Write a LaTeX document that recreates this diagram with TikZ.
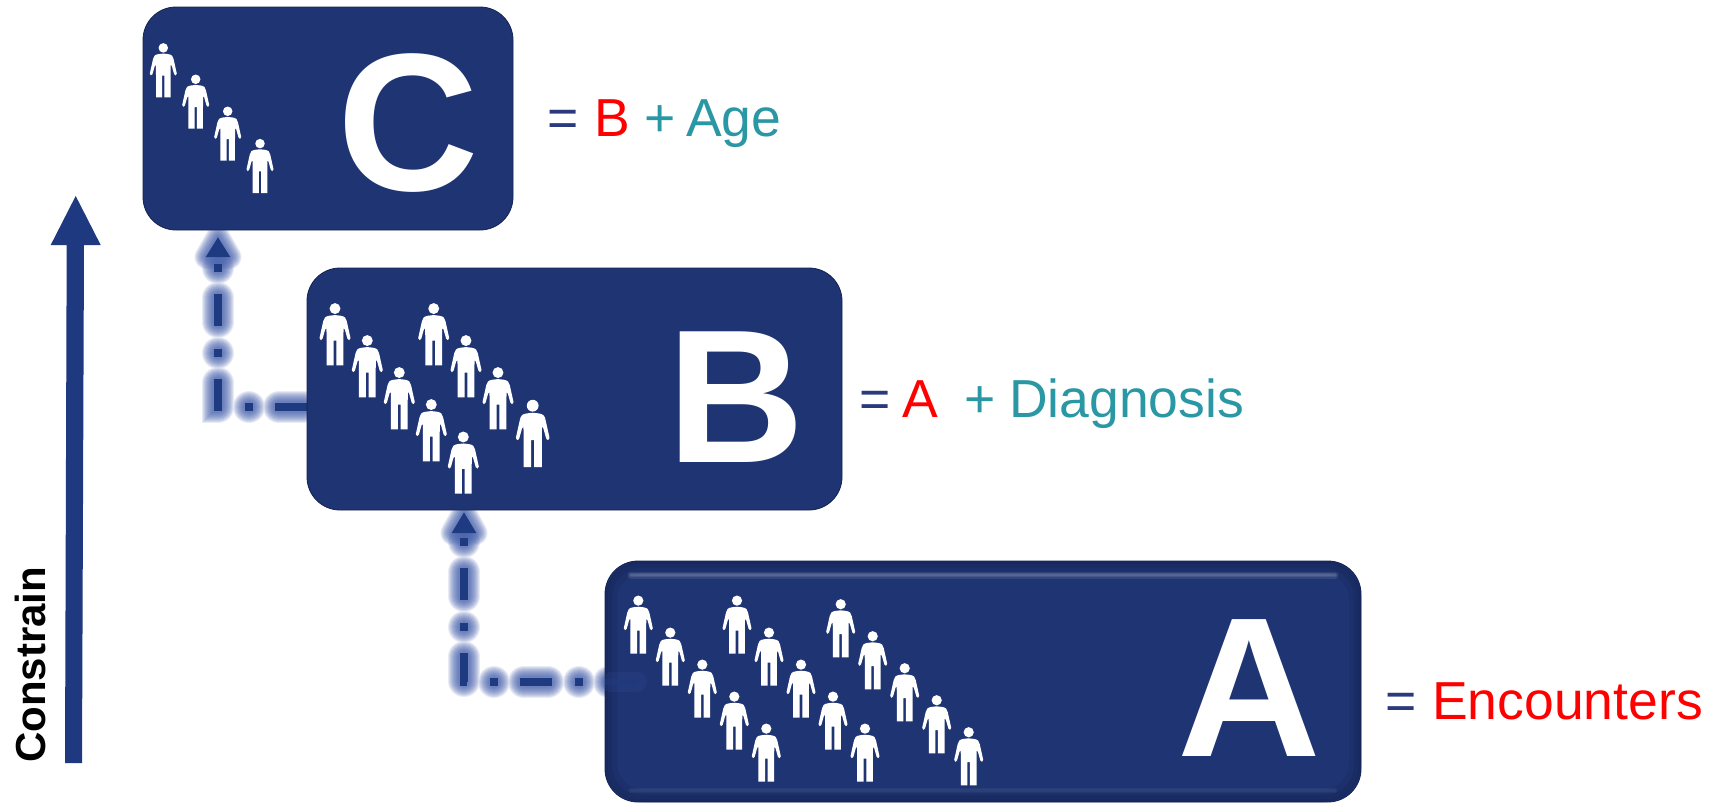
\documentclass[tikz,border=0pt]{standalone}
\usepackage{fontspec}
\setmainfont{Liberation Sans}
\usetikzlibrary{arrows.meta,calc}
\pgfdeclarelayer{bg}
\pgfsetlayers{bg,main}
\definecolor{boxblue}{HTML}{1F3473}
\definecolor{edgeblue}{HTML}{14224F}
\definecolor{linkblue}{HTML}{1E3A80}
\definecolor{glowblue}{HTML}{3F5AA8}
\definecolor{eqblue}{HTML}{2B3A7C}
\definecolor{tealtxt}{HTML}{2A97A5}
\definecolor{redtxt}{HTML}{FF0000}
\tikzset{
  panel/.style={fill=boxblue,draw=edgeblue,line width=0.8pt,rounded corners=33pt,inner sep=0pt,outer sep=0pt},
  bigletter/.style={text=white,anchor=base,inner sep=0pt,font=\fontsize{#1}{#1}\selectfont\bfseries},
  eqtext/.style={anchor=base west,inner sep=0pt,font=\fontsize{53.5}{60}\selectfont},
  dashcore/.style={dash pattern=on 32pt off 22pt on 8pt off 23pt},
  dashglow/.style={line cap=round,dash pattern=on 24pt off 30pt on 0pt off 31pt,dash phase=81pt},
  person/.pic={
    \fill[white] (0,.085) circle[radius=.088];
    \fill[white] (0,.19) -- (.09,.20) .. controls (.16,.21) and (.18,.24) .. (.19,.29)
      -- (.25,.56) .. controls (.25,.60) and (.21,.61) .. (.20,.57)
      -- (.158,.42) -- (.138,.40) -- (.135,.60) -- (.135,1) -- (.022,1) -- (.022,.60) -- (-.022,.60) -- (-.022,1)
      -- (-.135,1) -- (-.135,.60) -- (-.138,.40) -- (-.158,.42) -- (-.20,.57)
      .. controls (-.21,.61) and (-.25,.60) .. (-.25,.56) -- (-.19,.29)
      .. controls (-.18,.24) and (-.16,.21) .. (-.09,.20) -- cycle;
  }
}
\begin{document}
\begin{tikzpicture}[x=1pt,y=-1pt]
\useasboundingbox (0,0) rectangle (1718,803);
% panels
\node[panel,minimum width=370pt,minimum height=223pt] (cbox) at (328,118.5) {};
\node[panel,minimum width=535pt,minimum height=242pt] (bbox) at (574.5,389) {};
\node[panel,minimum width=756pt,minimum height=241pt] (abox) at (983,681.5) {};
% bevel of panel A
\foreach \k in {3,7,12}
  \draw[edgeblue,opacity=.22,line width=\k pt,rounded corners=33pt]
    ($(abox.north west)+(\k/2,\k/2)$) rectangle ($(abox.south east)+(-\k/2,-\k/2)$);
\foreach \k in {7,4.5,2.5}
  \draw[white,opacity=.09,line width=\k pt,line cap=round]
    ($(abox.north west)+(26,14)$) -- ($(abox.north east)+(-26,14)$);
\foreach \k in {5,3}
  \draw[white,opacity=.04,line width=\k pt,line cap=round]
    ($(abox.south west)+(26,-12)$) -- ($(abox.south east)+(-26,-12)$);
% routing points
\coordinate (bc) at (218,407);
\coordinate (ab) at (464,682);
\coordinate (cin) at ($(abox.west |- ab)+(32,0)$);
% connector glows and lines, behind the panels
\begin{pgfonlayer}{bg}
\foreach \d in {12,11,10,9,8,7,6,5,4,3,2} {
  \pgfmathsetmacro{\wl}{8+2*\d}
  \pgfmathsetmacro{\wt}{2*\d}
  \draw[glowblue,opacity=.12,line width=\wl pt,dashglow,shorten >=27pt]
    (bbox.west |- bc) -- (bc) -- (cbox.south -| bc);
  \draw[glowblue,opacity=.12,line width=\wt pt,line join=round]
    (218,237) -- (229.5,257) -- (206.5,257) -- cycle;
  \draw[glowblue,opacity=.12,line width=\wl pt,dashglow,shorten >=23pt]
    (cin) -- (ab) -- (bbox.south -| ab);
  \draw[glowblue,opacity=.12,line width=\wt pt,line join=round]
    (464,512) -- (475.5,533) -- (452.5,533) -- cycle;
}
\draw[linkblue,line width=8pt,dashcore,-{Triangle[width=23pt,length=20pt]},shorten >=7pt]
  (bbox.west |- bc) -- (bc) -- (cbox.south -| bc);
\draw[linkblue,line width=8pt,dashcore,-{Triangle[width=23pt,length=21pt]},shorten >=2pt]
  (cin) -- (ab) -- (bbox.south -| ab);
\end{pgfonlayer}
% faint trace of the connector inside panel A
\draw[glowblue,opacity=.14,line width=20pt,line cap=round] ($(abox.west |- ab)+(6,0)$) -- (cin);
\draw[linkblue,opacity=.6,line width=6pt] (abox.west |- ab) -- (cin);
% big arrow
\fill[linkblue!90!boxblue] (65,763) -- (82,763) -- (84,245) -- (100.7,245) -- (75.7,196) -- (50.7,245) -- (66.7,245) -- cycle;
\node[rotate=90,anchor=base west,inner sep=0pt,font=\fontsize{42}{48}\selectfont\bfseries] (constrain) at (45,763) {Constrain};
% people
\foreach \x/\y in {163.3/43.3,195.7/74.7,227.7/106.7,260/139}
  \pic[scale=54] at (\x,\y) {person};
\foreach \x/\y in {335/303.3,367.3/335.3,399.3/367.3,431.3/399.3,463.3/431.7,433.7/303.3,466/335.3,498/367.3}
  \pic[scale=62] at (\x,\y) {person};
\pic[scale=67] at (532.7,400) {person};
\foreach \x/\y in {638.3/595.7,670.3/627.7,702.3/659.7,734.3/691.7,766.3/723.7,
                   737/595.7,769/627.7,801/659.7,833/691.7,865/723.7,
                   840.7/599.3,872.7/631.3,904.7/663.3,936.7/695.3,968.7/727.3}
  \pic[scale=58] at (\x,\y) {person};
% panel letters
\node[bigletter=196] (lc) at (408,190) {C};
\node[bigletter=190] (lb) at (736,462) {B};
\node[bigletter=199] (la) at (1249,756) {A};
% equations
\node[eqtext,text=eqblue] (e1) at (547,136.5) {=};
\node[eqtext,text=redtxt] (e2) at (594,136.5) {B};
\node[eqtext,text=tealtxt] (e3) at (644,136.5) {+};
\node[eqtext,text=tealtxt] (e4) at (686,136.5) {Age};
\node[eqtext,text=eqblue] (f1) at (859,417.5) {=};
\node[eqtext,text=redtxt] (f2) at (902,417.5) {A};
\node[eqtext,text=tealtxt] (f3) at (964,417.5) {+};
\node[eqtext,text=tealtxt] (f4) at (1009,417.5) {Diagnosis};
\node[eqtext,text=eqblue] (g1) at (1385,719) {=};
\node[eqtext,text=redtxt] (g2) at (1432,719) {Encounters};
\end{tikzpicture}
\end{document}
